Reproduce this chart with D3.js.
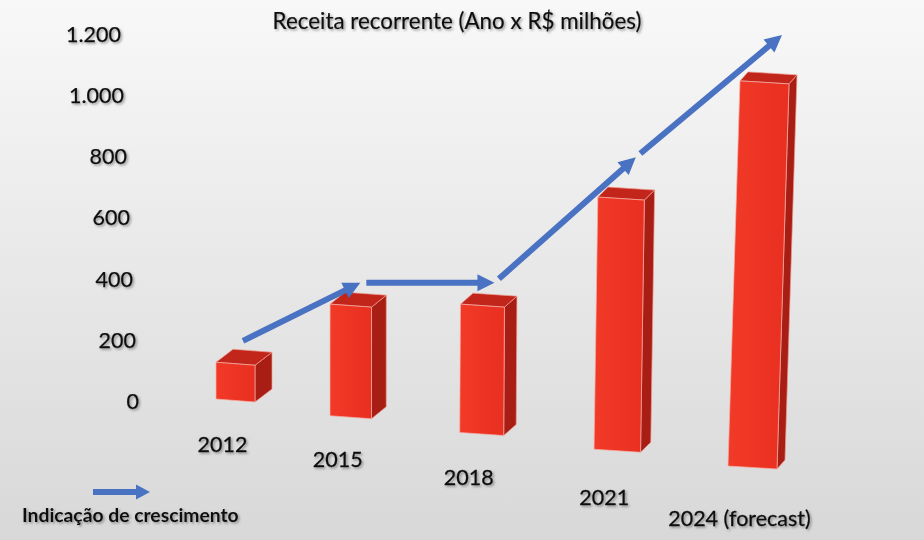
<!DOCTYPE html>
<html><head><meta charset="utf-8">
<script src="https://cdn.jsdelivr.net/npm/d3@7"></script>
<style>html,body{margin:0;padding:0;overflow:hidden;background:#e6e6e6}</style>
</head><body><svg id="chart" width="924" height="540"></svg>
<script>
// ---- data ----
const categories = ["2012", "2015", "2018", "2021", "2024 (forecast)"];
const revenue = [130, 320, 320, 670, 1050];
const growthTrend = [200, 390, 390, 800, 1200];       // growth-indication arrow levels
const yTicks = [0, 200, 400, 600, 800, 1000, 1200];
const titleText = "Receita recorrente (Ano x R$ milhões)";
const legendText = "Indicação de crescimento";

// ---- setup ----
const W = 924, H = 540;
const svg = d3.select("#chart");
const FONT = "Lato, 'Open Sans', sans-serif";
const ptBR = d3.formatLocale({decimal: ",", thousands: ".", grouping: [3], currency: ["R$ ", ""]});
const fmt = ptBR.format(",d");

const defs = svg.append("defs");
const bg = defs.append("linearGradient").attr("id", "bg").attr("x1", 0).attr("y1", 0).attr("x2", 0).attr("y2", 1);
bg.append("stop").attr("offset", "0%").attr("stop-color", "#f8f8f8");
bg.append("stop").attr("offset", "100%").attr("stop-color", "#d8d8d8");
const fg = defs.append("linearGradient").attr("id", "front").attr("x1", 0).attr("y1", 0).attr("x2", 1).attr("y2", 0);
fg.append("stop").attr("offset", "0%").attr("stop-color", "#f23a28");
fg.append("stop").attr("offset", "100%").attr("stop-color", "#e82f20");
const sh = defs.append("filter").attr("id", "shadow").attr("x", "-10%").attr("y", "-20%").attr("width", "130%").attr("height", "160%");
sh.append("feDropShadow").attr("dx", 1.5).attr("dy", 1.5).attr("stdDeviation", 0.9)
  .attr("flood-color", "#555").attr("flood-opacity", 0.6);

svg.append("rect").attr("width", W).attr("height", H).attr("fill", "url(#bg)");

// ---- scales ----
const idx = d3.range(categories.length);
const n = categories.length - 1;
const y = d3.scaleLinear().domain([0, 1200]).range([402, 35]);
const labelX = d3.scaleLinear().domain([0, 1200]).range([139, 121]);   // slanted axis edge
const x = d3.scalePow().exponent(1.1).domain([0, n]).range([216, 740]);
const arrowX = d3.scalePow().exponent(1.1).domain([0, n]).range([243, 782]);
const base = d3.scaleLinear().domain([0, n]).range([399, 466]);
const width = d3.scaleLinear().domain([0, n]).range([39, 49]);
const depth = d3.scaleLinear().domain([0, n]).range([17, 8]);
const rise = d3.scaleLinear().domain([0, n]).range([13, 9]);
const lean = d3.scalePow().exponent(4).domain([0, n]).range([0, -12]);
const catY = d3.scalePow().exponent(1.15).domain([0, n]).range([452, 526]);
const slope = 3;

// ---- y axis ----
const axis = d3.axisLeft(y).tickValues(yTicks).tickFormat(fmt).tickSize(0).tickPadding(0);
const ag = svg.append("g").call(axis);
ag.select(".domain").remove();
ag.selectAll(".tick").attr("transform", d => `translate(${labelX(d)},${y(d)})`);
ag.selectAll(".tick text")
  .attr("font-family", FONT).attr("font-size", 21.5).attr("fill", "#0c0c0c")
  .attr("stroke", "#0c0c0c").attr("stroke-width", 0.25)
  .attr("filter", "url(#shadow)");

// ---- bars ----
const bars = svg.append("g").selectAll("g").data(idx).join("g");
const pts = a => a.map(p => p.join(",")).join(" ");
function geo(i) {
  const x0 = x(i), w = width(i), d = depth(i), r = rise(i), l = lean(i);
  const t = y(revenue[i]), b = base(i);
  return {
    front: [[x0, t], [x0 + w, t + slope], [x0 + w + l, b + slope], [x0 + l, b]],
    top: [[x0, t], [x0 + w, t + slope], [x0 + w + d, t + slope - r], [x0 + d, t - r]],
    side: [[x0 + w, t + slope], [x0 + w + d, t + slope - r], [x0 + w + d + l, b + slope - r], [x0 + w + l, b + slope]]
  };
}
bars.append("polygon").attr("points", i => pts(geo(i).side)).attr("fill", "#a91e14")
  .attr("stroke", "#ee9d94").attr("stroke-width", 0.7).attr("stroke-linejoin", "round");
bars.append("polygon").attr("points", i => pts(geo(i).top)).attr("fill", "#c2261b")
  .attr("stroke", "#ee9d94").attr("stroke-width", 0.7).attr("stroke-linejoin", "round");
bars.append("polygon").attr("points", i => pts(geo(i).front)).attr("fill", "url(#front)")
  .attr("stroke", "#f6b0a8").attr("stroke-width", 0.7).attr("stroke-linejoin", "round");

// ---- category labels ----
svg.append("g").selectAll("text").data(idx).join("text")
  .attr("x", i => x(i) + lean(i) + width(i) / 2 - 13)
  .attr("y", i => catY(i))
  .attr("text-anchor", "middle")
  .attr("font-family", FONT).attr("font-size", 21.5).attr("fill", "#0c0c0c")
  .attr("stroke", "#0c0c0c").attr("stroke-width", 0.3)
  .attr("filter", "url(#shadow)")
  .text(i => categories[i]);

// ---- growth arrows ----
const BLUE = "#4a72c2";
function arrow(g, x1, y1, x2, y2, lw, hl, hw) {
  const dx = x2 - x1, dy = y2 - y1, L = Math.hypot(dx, dy);
  const ux = dx / L, uy = dy / L, px = -uy, py = ux;
  const bx = x2 - ux * hl, by = y2 - uy * hl;
  g.append("line").attr("x1", x1).attr("y1", y1).attr("x2", bx + ux).attr("y2", by + uy)
    .attr("stroke", BLUE).attr("stroke-width", lw);
  g.append("polygon")
    .attr("points", pts([[x2, y2], [bx + px * hw / 2, by + py * hw / 2], [bx - px * hw / 2, by - py * hw / 2]]))
    .attr("fill", BLUE);
}
const ap = idx.map(i => [arrowX(i), y(growthTrend[i])]);
const arrows = svg.append("g");
for (let i = 0; i < n; i++) {
  const [x1, y1] = ap[i], [x2, y2] = ap[i + 1];
  const L = Math.hypot(x2 - x1, y2 - y1), gap = i === 0 ? 0 : 6;
  arrow(arrows, x1 + (x2 - x1) / L * gap, y1 + (y2 - y1) / L * gap, x2, y2, 6, 17, 17);
}

// ---- title ----
svg.append("text").attr("x", 457).attr("y", 29).attr("text-anchor", "middle")
  .attr("font-family", FONT).attr("font-size", 22.4).attr("fill", "#0c0c0c")
  .attr("stroke", "#0c0c0c").attr("stroke-width", 0.2)
  .attr("filter", "url(#shadow)").text(titleText);

// ---- legend ----
const lg = svg.append("g");
arrow(lg, 93, 492, 150, 492, 6, 14, 15);
lg.append("text").attr("x", 22).attr("y", 522)
  .attr("font-family", FONT).attr("font-weight", "bold").attr("font-size", 19.3).attr("fill", "#111")
  .attr("filter", "url(#shadow)").text(legendText);
</script>
</body></html>
